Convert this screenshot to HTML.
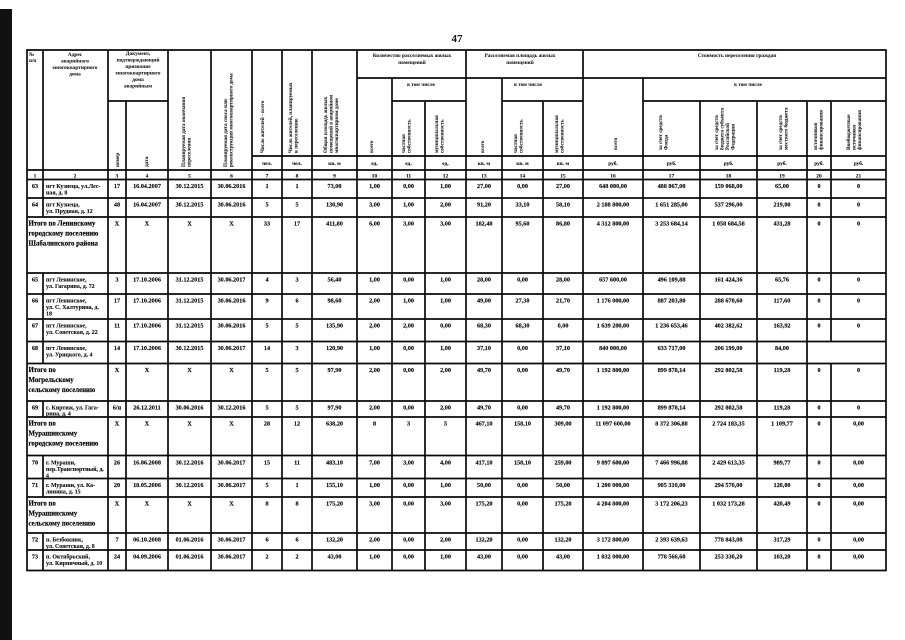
<!DOCTYPE html>
<html><head><meta charset="utf-8">
<style>
html,body{margin:0;padding:0;background:#fff;}
svg{display:block;}
.d{font-family:"Liberation Serif",serif;font-size:6.2px;font-weight:bold;fill:#111;stroke:#111;stroke-width:0.15;text-anchor:middle;}
.a{font-family:"Liberation Serif",serif;font-size:5.9px;font-weight:bold;fill:#111;stroke:#111;stroke-width:0.12;text-anchor:start;}
.t{font-family:"Liberation Serif",serif;font-size:6.8px;font-weight:bold;fill:#000;stroke:#000;stroke-width:0.15;text-anchor:start;}
.h{font-family:"Liberation Serif",serif;font-size:5.3px;font-weight:bold;fill:#222;stroke:#222;stroke-width:0.08;text-anchor:middle;}
.r{font-family:"Liberation Serif",serif;font-size:5.2px;font-weight:bold;fill:#222;stroke:#222;stroke-width:0.08;text-anchor:start;}
.u{font-family:"Liberation Serif",serif;font-size:5.4px;font-weight:bold;fill:#111;stroke:#111;stroke-width:0.1;text-anchor:middle;}
line{stroke:#0a0a0a;stroke-width:1.7;}
</style></head>
<body>
<svg width="905" height="640" viewBox="0 0 905 640" xmlns="http://www.w3.org/2000/svg">
<rect x="0" y="0" width="905" height="640" fill="#fff"/>
<rect x="0" y="9" width="12" height="631" fill="#111"/>
<text x="457" y="42" font-family="Liberation Serif" font-size="11" font-weight="bold" text-anchor="middle" fill="#111">47</text>

<!-- vertical lines -->
<line x1="27" y1="50" x2="27" y2="570.5"/>
<line x1="43" y1="50" x2="43" y2="217"/>
<line x1="43" y1="273" x2="43" y2="363.5"/>
<line x1="43" y1="401" x2="43" y2="417"/>
<line x1="43" y1="455.5" x2="43" y2="497"/>
<line x1="43" y1="533" x2="43" y2="570.5"/>
<line x1="108" y1="50" x2="108" y2="570.5"/>
<line x1="126" y1="101" x2="126" y2="570.5"/>
<line x1="168" y1="50" x2="168" y2="570.5"/>
<line x1="211" y1="50" x2="211" y2="570.5"/>
<line x1="252" y1="50" x2="252" y2="570.5"/>
<line x1="282" y1="50" x2="282" y2="570.5"/>
<line x1="312" y1="50" x2="312" y2="570.5"/>
<line x1="357" y1="50" x2="357" y2="570.5"/>
<line x1="392" y1="78" x2="392" y2="570.5"/>
<line x1="425" y1="101" x2="425" y2="570.5"/>
<line x1="466" y1="50" x2="466" y2="570.5"/>
<line x1="502" y1="78" x2="502" y2="570.5"/>
<line x1="543" y1="101" x2="543" y2="570.5"/>
<line x1="583" y1="50" x2="583" y2="570.5"/>
<line x1="643" y1="78" x2="643" y2="570.5"/>
<line x1="700" y1="101" x2="700" y2="570.5"/>
<line x1="757" y1="101" x2="757" y2="570.5"/>
<line x1="807" y1="101" x2="807" y2="570.5"/>
<line x1="831" y1="101" x2="831" y2="341.5"/>
<line x1="831" y1="363.5" x2="831" y2="570.5"/>
<line x1="886" y1="50" x2="886" y2="570.5"/>

<!-- horizontal lines -->
<line x1="26.2" y1="50" x2="886.8" y2="50"/>
<line x1="357" y1="78" x2="886" y2="78"/>
<line x1="108" y1="101" x2="168" y2="101"/>
<line x1="392" y1="101" x2="466" y2="101"/>
<line x1="502" y1="101" x2="583" y2="101"/>
<line x1="643" y1="101" x2="886" y2="101"/>
<line x1="252" y1="156" x2="886" y2="156"/>
<line x1="27" y1="170" x2="886" y2="170"/>
<line x1="27" y1="179.5" x2="886" y2="179.5"/>
<line x1="27" y1="198" x2="886" y2="198"/>
<line x1="27" y1="217" x2="886" y2="217"/>
<line x1="27" y1="273" x2="886" y2="273"/>
<line x1="27" y1="294" x2="886" y2="294"/>
<line x1="27" y1="319" x2="886" y2="319"/>
<line x1="27" y1="341.5" x2="886" y2="341.5"/>
<line x1="27" y1="363.5" x2="886" y2="363.5"/>
<line x1="27" y1="401" x2="886" y2="401"/>
<line x1="27" y1="417" x2="886" y2="417"/>
<line x1="27" y1="455.5" x2="886" y2="455.5"/>
<line x1="27" y1="478.5" x2="886" y2="478.5"/>
<line x1="27" y1="497" x2="886" y2="497"/>
<line x1="27" y1="533" x2="886" y2="533"/>
<line x1="27" y1="550" x2="886" y2="550"/>
<line x1="26.2" y1="570.5" x2="886.8" y2="570.5"/>

<!-- header horizontal text -->
<text class="r" x="29" y="56">№</text>
<text class="r" x="29" y="62">п/п</text>
<text class="h" x="75" y="56">Адрес</text>
<text class="h" x="75" y="62.5">аварийного</text>
<text class="h" x="75" y="69">многоквартирного</text>
<text class="h" x="75" y="75.5">дома</text>
<text class="h" x="138" y="55">Документ,</text>
<text class="h" x="138" y="61.5">подтверждающий</text>
<text class="h" x="138" y="68">признание</text>
<text class="h" x="138" y="74.5">многоквартирного</text>
<text class="h" x="138" y="81">дома</text>
<text class="h" x="138" y="87.5">аварийным</text>
<text class="h" x="412" y="57">Количество расселяемых жилых</text>
<text class="h" x="412" y="64">помещений</text>
<text class="h" x="520" y="57">Расселяемая площадь жилых</text>
<text class="h" x="520" y="64">помещений</text>
<text class="h" x="737" y="57">Стоимость переселения граждан</text>
<text class="h" x="421" y="86">в том числе</text>
<text class="h" x="528" y="86">в том числе</text>
<text class="h" x="748" y="86">в том числе</text>

<!-- header rotated text -->
<text class="r" transform="translate(119 167) rotate(-90)">номер</text>
<text class="r" transform="translate(148 167) rotate(-90)">дата</text>
<text class="r" transform="translate(185 167) rotate(-90)">Планируемая дата окончания</text>
<text class="r" transform="translate(190.5 167) rotate(-90)">переселения</text>
<text class="r" transform="translate(227 167) rotate(-90)">Планируемая дата сноса или</text>
<text class="r" transform="translate(232.5 167) rotate(-90)">реконструкции многоквартирного дома</text>
<text class="r" transform="translate(264 153) rotate(-90)">Число жителей - всего</text>
<text class="r" transform="translate(292 153) rotate(-90)">Число жителей, планируемых</text>
<text class="r" transform="translate(297.5 153) rotate(-90)">к переселению</text>
<text class="r" transform="translate(327 153) rotate(-90)">Общая площадь жилых</text>
<text class="r" transform="translate(332.5 153) rotate(-90)">помещений в аварийном</text>
<text class="r" transform="translate(338 153) rotate(-90)">многоквартирном доме</text>
<text class="r" transform="translate(373 153) rotate(-90)">всего</text>
<text class="r" transform="translate(405 153) rotate(-90)">частная</text>
<text class="r" transform="translate(410.5 153) rotate(-90)">собственность</text>
<text class="r" transform="translate(438 153) rotate(-90)">муниципальная</text>
<text class="r" transform="translate(443.5 153) rotate(-90)">собственность</text>
<text class="r" transform="translate(484 153) rotate(-90)">всего</text>
<text class="r" transform="translate(517 153) rotate(-90)">частная</text>
<text class="r" transform="translate(522.5 153) rotate(-90)">собственность</text>
<text class="r" transform="translate(558 153) rotate(-90)">муниципальная</text>
<text class="r" transform="translate(563.5 153) rotate(-90)">собственность</text>
<text class="r" transform="translate(617 150) rotate(-90)">всего</text>
<text class="r" transform="translate(662 150) rotate(-90)">за счет средств</text>
<text class="r" transform="translate(667.5 150) rotate(-90)">Фонда</text>
<text class="r" transform="translate(718 150) rotate(-90)">за счет средств</text>
<text class="r" transform="translate(723.5 150) rotate(-90)">бюджета субъекта</text>
<text class="r" transform="translate(729 150) rotate(-90)">Российской</text>
<text class="r" transform="translate(734.5 150) rotate(-90)">Федерации</text>
<text class="r" transform="translate(782 150) rotate(-90)">за счет средств</text>
<text class="r" transform="translate(787.5 150) rotate(-90)">местного бюджета</text>
<text class="r" transform="translate(817 150) rotate(-90)">источников</text>
<text class="r" transform="translate(822.5 150) rotate(-90)">финансирования</text>
<text class="r" transform="translate(850 150) rotate(-90)">Внебюджетные</text>
<text class="r" transform="translate(855.5 150) rotate(-90)">источники</text>
<text class="r" transform="translate(861 150) rotate(-90)">финансирования</text>

<!-- units -->
<g class="u">
<text x="267" y="165">чел.</text><text x="297" y="165">чел.</text><text x="334.5" y="165">кв. м</text>
<text x="374.5" y="165">ед.</text><text x="408.5" y="165">ед.</text><text x="445.5" y="165">ед.</text>
<text x="484" y="165">кв. м</text><text x="522.5" y="165">кв. м</text><text x="563" y="165">кв. м</text>
<text x="613" y="165">руб.</text><text x="671.5" y="165">руб.</text><text x="728.5" y="165">руб.</text>
<text x="782" y="165">руб.</text><text x="819" y="165">руб.</text><text x="858.5" y="165">руб.</text>
</g>
<!-- numbers row -->
<g class="u">
<text x="35" y="177.5">1</text><text x="75" y="177.5">2</text><text x="117" y="177.5">3</text><text x="147" y="177.5">4</text>
<text x="189.5" y="177.5">5</text><text x="231.5" y="177.5">6</text><text x="267" y="177.5">7</text><text x="297" y="177.5">8</text>
<text x="334.5" y="177.5">9</text><text x="374.5" y="177.5">10</text><text x="408.5" y="177.5">11</text><text x="445.5" y="177.5">12</text>
<text x="484" y="177.5">13</text><text x="522.5" y="177.5">14</text><text x="563" y="177.5">15</text><text x="613" y="177.5">16</text>
<text x="671.5" y="177.5">17</text><text x="728.5" y="177.5">18</text><text x="782" y="177.5">19</text><text x="819" y="177.5">20</text><text x="858.5" y="177.5">21</text>
</g>

<!-- row 63 -->
<g class="d">
<text x="35" y="188">63</text><text x="117" y="188">17</text><text x="147" y="188">16.04.2007</text><text x="189.5" y="188">30.12.2015</text><text x="231.5" y="188">30.06.2016</text>
<text x="267" y="188">1</text><text x="297" y="188">1</text><text x="334.5" y="188">73,00</text><text x="374.5" y="188">1,00</text><text x="408.5" y="188">0,00</text><text x="445.5" y="188">1,00</text>
<text x="484" y="188">27,00</text><text x="522.5" y="188">0,00</text><text x="563" y="188">27,00</text><text x="613" y="188">648 000,00</text><text x="671.5" y="188">488 867,00</text>
<text x="728.5" y="188">159 068,00</text><text x="782" y="188">65,00</text><text x="819" y="188">0</text><text x="858.5" y="188">0</text>
</g>
<text class="a" x="46" y="188">пгт Кузнеца, ул.Лес-</text><text class="a" x="46" y="194.5">ная, д. 8</text>

<!-- row 64 -->
<g class="d">
<text x="35" y="206.5">64</text><text x="117" y="206.5">48</text><text x="147" y="206.5">16.04.2007</text><text x="189.5" y="206.5">30.12.2015</text><text x="231.5" y="206.5">30.06.2016</text>
<text x="267" y="206.5">5</text><text x="297" y="206.5">5</text><text x="334.5" y="206.5">130,90</text><text x="374.5" y="206.5">3,00</text><text x="408.5" y="206.5">1,00</text><text x="445.5" y="206.5">2,00</text>
<text x="484" y="206.5">91,20</text><text x="522.5" y="206.5">33,10</text><text x="563" y="206.5">58,10</text><text x="613" y="206.5">2 188 800,00</text><text x="671.5" y="206.5">1 651 285,00</text>
<text x="728.5" y="206.5">537 296,00</text><text x="782" y="206.5">219,00</text><text x="819" y="206.5">0</text><text x="858.5" y="206.5">0</text>
</g>
<text class="a" x="46" y="206.5">пгт Кузнеца,</text><text class="a" x="46" y="213">ул. Прудная, д. 12</text>

<!-- Itogo 1 -->
<text class="t" x="28.5" y="225.5">Итого по Ленинскому</text>
<text class="t" x="28.5" y="235.5">городскому поселению</text>
<text class="t" x="28.5" y="245.5">Шабалинского района</text>
<g class="d" font-size="6.6">
<text x="117" y="225.5">X</text><text x="147" y="225.5">X</text><text x="189.5" y="225.5">X</text><text x="231.5" y="225.5">X</text>
<text x="267" y="225.5">33</text><text x="297" y="225.5">17</text><text x="334.5" y="225.5">411,80</text><text x="374.5" y="225.5">6,00</text><text x="408.5" y="225.5">3,00</text><text x="445.5" y="225.5">3,00</text>
<text x="484" y="225.5">182,40</text><text x="522.5" y="225.5">95,60</text><text x="563" y="225.5">86,80</text><text x="613" y="225.5">4 312 800,00</text><text x="671.5" y="225.5">3 253 684,14</text>
<text x="728.5" y="225.5">1 058 684,58</text><text x="782" y="225.5">431,28</text><text x="819" y="225.5">0</text><text x="858.5" y="225.5">0</text>
</g>

<!-- row 65 -->
<g class="d">
<text x="35" y="281.5">65</text><text x="117" y="281.5">3</text><text x="147" y="281.5">17.10.2006</text><text x="189.5" y="281.5">31.12.2015</text><text x="231.5" y="281.5">30.06.2017</text>
<text x="267" y="281.5">4</text><text x="297" y="281.5">3</text><text x="334.5" y="281.5">56,40</text><text x="374.5" y="281.5">1,00</text><text x="408.5" y="281.5">0,00</text><text x="445.5" y="281.5">1,00</text>
<text x="484" y="281.5">28,00</text><text x="522.5" y="281.5">0,00</text><text x="563" y="281.5">28,00</text><text x="613" y="281.5">657 600,00</text><text x="671.5" y="281.5">496 109,88</text>
<text x="728.5" y="281.5">161 424,36</text><text x="782" y="281.5">65,76</text><text x="819" y="281.5">0</text><text x="858.5" y="281.5">0</text>
</g>
<text class="a" x="46" y="281.5">пгт Ленинское,</text><text class="a" x="46" y="288">ул. Гагарина, д. 72</text>

<!-- row 66 -->
<g class="d">
<text x="35" y="302.5">66</text><text x="117" y="302.5">17</text><text x="147" y="302.5">17.10.2006</text><text x="189.5" y="302.5">31.12.2015</text><text x="231.5" y="302.5">30.06.2016</text>
<text x="267" y="302.5">9</text><text x="297" y="302.5">6</text><text x="334.5" y="302.5">98,60</text><text x="374.5" y="302.5">2,00</text><text x="408.5" y="302.5">1,00</text><text x="445.5" y="302.5">1,00</text>
<text x="484" y="302.5">49,00</text><text x="522.5" y="302.5">27,30</text><text x="563" y="302.5">21,70</text><text x="613" y="302.5">1 176 000,00</text><text x="671.5" y="302.5">887 203,80</text>
<text x="728.5" y="302.5">288 678,60</text><text x="782" y="302.5">117,60</text><text x="819" y="302.5">0</text><text x="858.5" y="302.5">0</text>
</g>
<text class="a" x="46" y="302.5">пгт Ленинское,</text><text class="a" x="46" y="309">ул. С. Халтурина,  д.</text><text class="a" x="46" y="315.5">18</text>

<!-- row 67 -->
<g class="d">
<text x="35" y="327.5">67</text><text x="117" y="327.5">11</text><text x="147" y="327.5">17.10.2006</text><text x="189.5" y="327.5">31.12.2015</text><text x="231.5" y="327.5">30.06.2016</text>
<text x="267" y="327.5">5</text><text x="297" y="327.5">5</text><text x="334.5" y="327.5">135,90</text><text x="374.5" y="327.5">2,00</text><text x="408.5" y="327.5">2,00</text><text x="445.5" y="327.5">0,00</text>
<text x="484" y="327.5">68,30</text><text x="522.5" y="327.5">68,30</text><text x="563" y="327.5">0,00</text><text x="613" y="327.5">1 639 200,00</text><text x="671.5" y="327.5">1 236 653,46</text>
<text x="728.5" y="327.5">402 382,62</text><text x="782" y="327.5">163,92</text><text x="819" y="327.5">0</text><text x="858.5" y="327.5">0</text>
</g>
<text class="a" x="46" y="327.5">пгт Ленинское,</text><text class="a" x="46" y="334">ул. Советская, д. 22</text>

<!-- row 68 -->
<g class="d">
<text x="35" y="350">68</text><text x="117" y="350">14</text><text x="147" y="350">17.10.2006</text><text x="189.5" y="350">30.12.2015</text><text x="231.5" y="350">30.06.2017</text>
<text x="267" y="350">14</text><text x="297" y="350">3</text><text x="334.5" y="350">120,90</text><text x="374.5" y="350">1,00</text><text x="408.5" y="350">0,00</text><text x="445.5" y="350">1,00</text>
<text x="484" y="350">37,10</text><text x="522.5" y="350">0,00</text><text x="563" y="350">37,10</text><text x="613" y="350">840 000,00</text><text x="671.5" y="350">633 717,00</text>
<text x="728.5" y="350">206 199,00</text><text x="782" y="350">84,00</text>
</g>
<text class="a" x="46" y="350">пгт Ленинское,</text><text class="a" x="46" y="356.5">ул. Урицкого, д. 4</text>

<!-- Itogo 2 -->
<text class="t" x="28.5" y="372">Итого по</text>
<text class="t" x="28.5" y="382">Могрельскому</text>
<text class="t" x="28.5" y="392">сельскому поселению</text>
<g class="d" font-size="6.6">
<text x="117" y="372">X</text><text x="147" y="372">X</text><text x="189.5" y="372">X</text><text x="231.5" y="372">X</text>
<text x="267" y="372">5</text><text x="297" y="372">5</text><text x="334.5" y="372">97,90</text><text x="374.5" y="372">2,00</text><text x="408.5" y="372">0,00</text><text x="445.5" y="372">2,00</text>
<text x="484" y="372">49,70</text><text x="522.5" y="372">0,00</text><text x="563" y="372">49,70</text><text x="613" y="372">1 192 800,00</text><text x="671.5" y="372">899 878,14</text>
<text x="728.5" y="372">292 802,58</text><text x="782" y="372">119,28</text><text x="819" y="372">0</text><text x="858.5" y="372">0</text>
</g>

<!-- row 69 -->
<g class="d">
<text x="35" y="409.5">69</text><text x="117" y="409.5">6/н</text><text x="147" y="409.5">26.12.2011</text><text x="189.5" y="409.5">30.06.2016</text><text x="231.5" y="409.5">30.12.2016</text>
<text x="267" y="409.5">5</text><text x="297" y="409.5">5</text><text x="334.5" y="409.5">97,90</text><text x="374.5" y="409.5">2,00</text><text x="408.5" y="409.5">0,00</text><text x="445.5" y="409.5">2,00</text>
<text x="484" y="409.5">49,70</text><text x="522.5" y="409.5">0,00</text><text x="563" y="409.5">49,70</text><text x="613" y="409.5">1 192 800,00</text><text x="671.5" y="409.5">899 878,14</text>
<text x="728.5" y="409.5">292 802,58</text><text x="782" y="409.5">119,28</text><text x="819" y="409.5">0</text><text x="858.5" y="409.5">0</text>
</g>
<text class="a" x="46" y="409.5">с. Киртиж, ул. Гага-</text><text class="a" x="46" y="415.5">рина, д. 4</text>

<!-- Itogo 3 -->
<text class="t" x="28.5" y="425.5">Итого по</text>
<text class="t" x="28.5" y="435.5">Мурашинскому</text>
<text class="t" x="28.5" y="445.5">городскому поселению</text>
<g class="d" font-size="6.6">
<text x="117" y="425.5">X</text><text x="147" y="425.5">X</text><text x="189.5" y="425.5">X</text><text x="231.5" y="425.5">X</text>
<text x="267" y="425.5">28</text><text x="297" y="425.5">12</text><text x="334.5" y="425.5">638,20</text><text x="374.5" y="425.5">8</text><text x="408.5" y="425.5">3</text><text x="445.5" y="425.5">5</text>
<text x="484" y="425.5">467,10</text><text x="522.5" y="425.5">158,10</text><text x="563" y="425.5">309,00</text><text x="613" y="425.5">11 097 600,00</text><text x="671.5" y="425.5">8 372 306,88</text>
<text x="728.5" y="425.5">2 724 183,35</text><text x="782" y="425.5">1 109,77</text><text x="819" y="425.5">0</text><text x="858.5" y="425.5">0,00</text>
</g>

<!-- row 70 -->
<g class="d">
<text x="35" y="464.5">70</text><text x="117" y="464.5">26</text><text x="147" y="464.5">16.06.2008</text><text x="189.5" y="464.5">30.12.2016</text><text x="231.5" y="464.5">30.06.2017</text>
<text x="267" y="464.5">15</text><text x="297" y="464.5">11</text><text x="334.5" y="464.5">483,10</text><text x="374.5" y="464.5">7,00</text><text x="408.5" y="464.5">3,00</text><text x="445.5" y="464.5">4,00</text>
<text x="484" y="464.5">417,10</text><text x="522.5" y="464.5">158,10</text><text x="563" y="464.5">259,00</text><text x="613" y="464.5">9 897 600,00</text><text x="671.5" y="464.5">7 466 996,88</text>
<text x="728.5" y="464.5">2 429 613,35</text><text x="782" y="464.5">989,77</text><text x="819" y="464.5">0</text><text x="858.5" y="464.5">0,00</text>
</g>
<text class="a" x="46" y="464.5">г. Мураши,</text><text class="a" x="46" y="471">пер.Транспортный,  д.</text><text class="a" x="46" y="477.5">4</text>

<!-- row 71 -->
<g class="d">
<text x="35" y="487">71</text><text x="117" y="487">20</text><text x="147" y="487">18.05.2006</text><text x="189.5" y="487">30.12.2016</text><text x="231.5" y="487">30.06.2017</text>
<text x="267" y="487">5</text><text x="297" y="487">1</text><text x="334.5" y="487">155,10</text><text x="374.5" y="487">1,00</text><text x="408.5" y="487">0,00</text><text x="445.5" y="487">1,00</text>
<text x="484" y="487">50,00</text><text x="522.5" y="487">0,00</text><text x="563" y="487">50,00</text><text x="613" y="487">1 200 000,00</text><text x="671.5" y="487">905 310,00</text>
<text x="728.5" y="487">294 570,00</text><text x="782" y="487">120,00</text><text x="819" y="487">0</text><text x="858.5" y="487">0,00</text>
</g>
<text class="a" x="46" y="487">г. Мураши, ул. Ка-</text><text class="a" x="46" y="493.5">линина, д. 15</text>

<!-- Itogo 4 -->
<text class="t" x="28.5" y="505.5">Итого по</text>
<text class="t" x="28.5" y="515.5">Мурашинскому</text>
<text class="t" x="28.5" y="525.5">сельскому поселению</text>
<g class="d" font-size="6.6">
<text x="117" y="505.5">X</text><text x="147" y="505.5">X</text><text x="189.5" y="505.5">X</text><text x="231.5" y="505.5">X</text>
<text x="267" y="505.5">8</text><text x="297" y="505.5">8</text><text x="334.5" y="505.5">175,20</text><text x="374.5" y="505.5">3,00</text><text x="408.5" y="505.5">0,00</text><text x="445.5" y="505.5">3,00</text>
<text x="484" y="505.5">175,20</text><text x="522.5" y="505.5">0,00</text><text x="563" y="505.5">175,20</text><text x="613" y="505.5">4 204 800,00</text><text x="671.5" y="505.5">3 172 206,23</text>
<text x="728.5" y="505.5">1 032 173,28</text><text x="782" y="505.5">420,49</text><text x="819" y="505.5">0</text><text x="858.5" y="505.5">0,00</text>
</g>

<!-- row 72 -->
<g class="d">
<text x="35" y="541.5">72</text><text x="117" y="541.5">7</text><text x="147" y="541.5">06.10.2008</text><text x="189.5" y="541.5">01.06.2016</text><text x="231.5" y="541.5">30.06.2017</text>
<text x="267" y="541.5">6</text><text x="297" y="541.5">6</text><text x="334.5" y="541.5">132,20</text><text x="374.5" y="541.5">2,00</text><text x="408.5" y="541.5">0,00</text><text x="445.5" y="541.5">2,00</text>
<text x="484" y="541.5">132,20</text><text x="522.5" y="541.5">0,00</text><text x="563" y="541.5">132,20</text><text x="613" y="541.5">3 172 800,00</text><text x="671.5" y="541.5">2 393 639,63</text>
<text x="728.5" y="541.5">778 843,08</text><text x="782" y="541.5">317,29</text><text x="819" y="541.5">0</text><text x="858.5" y="541.5">0,00</text>
</g>
<text class="a" x="46" y="541.5">п. Безбожник,</text><text class="a" x="46" y="548">ул. Советская, д. 8</text>

<!-- row 73 -->
<g class="d">
<text x="35" y="558.5">73</text><text x="117" y="558.5">24</text><text x="147" y="558.5">04.09.2006</text><text x="189.5" y="558.5">01.06.2016</text><text x="231.5" y="558.5">30.06.2017</text>
<text x="267" y="558.5">2</text><text x="297" y="558.5">2</text><text x="334.5" y="558.5">43,00</text><text x="374.5" y="558.5">1,00</text><text x="408.5" y="558.5">0,00</text><text x="445.5" y="558.5">1,00</text>
<text x="484" y="558.5">43,00</text><text x="522.5" y="558.5">0,00</text><text x="563" y="558.5">43,00</text><text x="613" y="558.5">1 032 000,00</text><text x="671.5" y="558.5">778 566,60</text>
<text x="728.5" y="558.5">253 330,20</text><text x="782" y="558.5">103,20</text><text x="819" y="558.5">0</text><text x="858.5" y="558.5">0,00</text>
</g>
<text class="a" x="46" y="558.5">п. Октябрьский,</text><text class="a" x="46" y="565">ул. Кирпичный, д. 10</text>
</svg>
</body></html>
